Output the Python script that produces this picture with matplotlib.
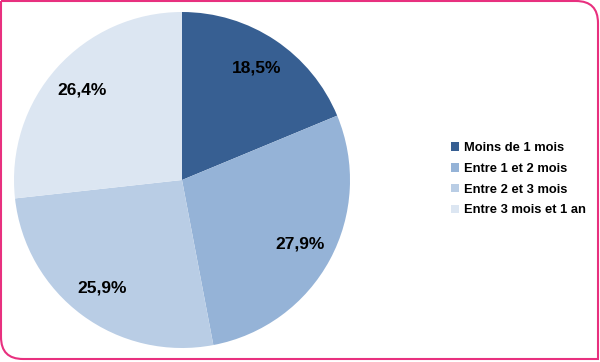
import matplotlib.pyplot as plt
from matplotlib.path import Path
from matplotlib.patches import PathPatch

# data
categories = ["Moins de 1 mois", "Entre 1 et 2 mois", "Entre 2 et 3 mois", "Entre 3 mois et 1 an"]
values = [18.5, 27.9, 25.9, 26.4]
labels = ["18,5%", "27,9%", "25,9%", "26,4%"]
colors = ["#375F92", "#95B3D7", "#B9CDE5", "#DCE6F2"]

plt.rcParams['font.family'] = ['Liberation Sans', 'DejaVu Sans']

W, H = 600, 362
fig = plt.figure(figsize=(W / 100, H / 100), dpi=100)

# frame with two rounded corners
bg = fig.add_axes([0, 0, 1, 1])
bg.set_xlim(0, W)
bg.set_ylim(H, 0)
bg.axis("off")
r = 22
L, T, R, B = 1, 1, 598, 359
verts = [(L, T), (R - r, T), (R, T), (R, T + r), (R, B), (L + r, B), (L, B), (L, B - r), (L, T)]
codes = [Path.MOVETO, Path.LINETO, Path.CURVE3, Path.CURVE3, Path.LINETO,
         Path.LINETO, Path.CURVE3, Path.CURVE3, Path.LINETO]
bg.add_patch(PathPatch(Path(verts, codes), fill=False, edgecolor="#E8307F", lw=1.5))

# pie
cx, cy, rad = 182, 180, 168
ax = fig.add_axes([(cx - rad) / W, (H - cy - rad) / H, 2 * rad / W, 2 * rad / H])
wedges, texts = ax.pie(values, colors=colors, startangle=90, counterclock=False,
                       labels=labels, labeldistance=0.8,
                       wedgeprops=dict(linewidth=0))
for t in texts:
    t.set_ha("center")
    t.set_va("center")
    t.set_fontsize(12.5)
    t.set_fontweight("bold")
ax.set_xlim(-1, 1)
ax.set_ylim(-1, 1)

fig.legend(wedges, categories, loc="upper left", bbox_to_anchor=(451 / W, 1 - 142 / H),
           frameon=False, prop=dict(size=9.3, weight="bold"),
           handlelength=0.65, handleheight=0.65, handletextpad=0.35, labelspacing=0.68,
           borderaxespad=0, borderpad=0)

fig.savefig("out.png", dpi=100)
